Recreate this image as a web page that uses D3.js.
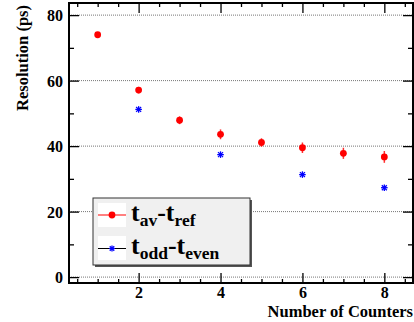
<!DOCTYPE html>
<html><head><meta charset="utf-8">
<script src="https://cdn.jsdelivr.net/npm/d3@7"></script>
<style>
html,body{margin:0;padding:0;background:#fff;}
svg{display:block;}
text{font-family:"Liberation Serif","Times New Roman",serif;font-weight:bold;fill:#000;}
</style></head>
<body>
<svg id="c" width="414" height="322"></svg>
<script>
// ---- data ----
const counters = [1, 2, 3, 4, 5, 6, 7, 8];
const tavRef = [74.0, 57.1, 47.9, 43.6, 41.1, 39.5, 37.8, 36.7];
const tavRefErr = [0.6, 1.0, 1.2, 1.5, 1.3, 1.6, 1.7, 1.8];
const oddEvenCounters = [2, 4, 6, 8];
const oddEven = [51.2, 37.4, 31.3, 27.3];
const xMajorTicks = [2, 4, 6, 8];
const yMajorTicks = [0, 20, 40, 60, 80];
const yMinorTicks = [10, 30, 50, 70];
const xMinorTicks = [0.5, 1, 1.5, 2.5, 3, 3.5, 4.5, 5, 5.5, 6.5, 7, 7.5, 8.5];

// ---- layout ----
const L = 69, R = 413, T = 3, B = 283;
const svg = d3.select("#c");
const x = d3.scaleLinear().domain([0.3, 8.7]).range([L, R]);
const y = d3.scaleLinear().domain([-1.8, 83.7]).range([B, T]);

// gridlines
svg.append("g").selectAll("line").data(yMajorTicks).join("line")
  .attr("x1", L).attr("x2", R)
  .attr("y1", d => y(d)).attr("y2", d => y(d))
  .attr("stroke", "#777").attr("stroke-width", 1).attr("stroke-dasharray", "1,1");

// axes (ticks inside)
function styleAxis(g){ g.select(".domain").remove(); g.selectAll("line").attr("stroke","#000").attr("stroke-width",1.3); }

svg.append("g").attr("transform", `translate(${L},0)`)
  .call(d3.axisLeft(y).tickValues(yMajorTicks).tickSize(-10).tickPadding(6).tickFormat(d3.format("d")))
  .call(styleAxis)
  .call(g => g.selectAll("text").attr("font-size", 16).attr("font-family", '"Liberation Serif",serif').attr("font-weight", "bold").attr("dy", "0.35em"));
svg.append("g").attr("transform", `translate(${L},0)`)
  .call(d3.axisLeft(y).tickValues(yMinorTicks).tickSize(-5).tickFormat(""))
  .call(styleAxis);
svg.append("g").attr("transform", `translate(${R},0)`)
  .call(d3.axisRight(y).tickValues(yMajorTicks).tickSize(-10).tickFormat(""))
  .call(styleAxis);
svg.append("g").attr("transform", `translate(${R},0)`)
  .call(d3.axisRight(y).tickValues(yMinorTicks).tickSize(-5).tickFormat(""))
  .call(styleAxis);

svg.append("g").attr("transform", `translate(0,${B})`)
  .call(d3.axisBottom(x).tickValues(xMajorTicks).tickSize(-10).tickPadding(3).tickFormat(d3.format("d")))
  .call(styleAxis)
  .call(g => g.selectAll("text").attr("font-size", 16).attr("font-family", '"Liberation Serif",serif').attr("font-weight", "bold").attr("dy", "0.75em"));
svg.append("g").attr("transform", `translate(0,${B})`)
  .call(d3.axisBottom(x).tickValues(xMinorTicks).tickSize(-4).tickFormat(""))
  .call(styleAxis);
svg.append("g").attr("transform", `translate(0,${T})`)
  .call(d3.axisTop(x).tickValues(xMajorTicks).tickSize(-10).tickFormat(""))
  .call(styleAxis);
svg.append("g").attr("transform", `translate(0,${T})`)
  .call(d3.axisTop(x).tickValues(xMinorTicks).tickSize(-4).tickFormat(""))
  .call(styleAxis);

// frame
svg.append("rect").attr("x", L).attr("y", T).attr("width", R - L).attr("height", B - T)
  .attr("fill", "none").attr("stroke", "#000").attr("stroke-width", 2);

// axis titles
svg.append("text").attr("transform", "translate(28,5) rotate(-90)")
  .attr("text-anchor", "end").attr("font-size", 16.5).text("Resolution (ps)");
svg.append("text").attr("x", 413).attr("y", 317)
  .attr("text-anchor", "end").attr("font-size", 16.5).text("Number of Counters");

// red series with error bars
const red = counters.map((c, i) => ({c, v: tavRef[i], e: tavRefErr[i]}));
svg.append("g").selectAll("line").data(red).join("line")
  .attr("x1", d => x(d.c)).attr("x2", d => x(d.c))
  .attr("y1", d => y(d.v - d.e)).attr("y2", d => y(d.v + d.e))
  .attr("stroke", "#ff3030").attr("stroke-width", 1.5);
svg.append("g").selectAll("circle").data(red).join("circle")
  .attr("cx", d => x(d.c)).attr("cy", d => y(d.v)).attr("r", 3.4).attr("fill", "#ff0000");

// blue stars
function drawStar(g, cx, cy, s){
  const pts = [[-s,0,s,0],[0,-s,0,s],[-s*0.75,-s*0.75,s*0.75,s*0.75],[-s*0.75,s*0.75,s*0.75,-s*0.75]];
  pts.forEach(p => g.append("line").attr("x1", cx+p[0]).attr("y1", cy+p[1]).attr("x2", cx+p[2]).attr("y2", cy+p[3])
    .attr("stroke", "#0000ff").attr("stroke-width", 1.3));
}
const blue = oddEvenCounters.map((c, i) => ({c, v: oddEven[i]}));
const bg = svg.append("g");
blue.forEach(d => drawStar(bg, x(d.c), y(d.v), 3.3));

// legend
const lg = svg.append("g");
lg.append("rect").attr("x", 95).attr("y", 200).attr("width", 157).attr("height", 67).attr("fill", "#555");
lg.append("rect").attr("x", 93).attr("y", 198).attr("width", 157).attr("height", 67)
  .attr("fill", "#f0f0f0").attr("stroke", "#333").attr("stroke-width", 1);
lg.append("rect").attr("x", 98).attr("y", 203).attr("width", 28).attr("height", 24).attr("fill", "#fff");
lg.append("rect").attr("x", 98).attr("y", 236).attr("width", 28).attr("height", 24).attr("fill", "#fff");
lg.append("line").attr("x1", 98).attr("x2", 126).attr("y1", 215).attr("y2", 215).attr("stroke", "#ff8080").attr("stroke-width", 2);
lg.append("circle").attr("cx", 112).attr("cy", 215).attr("r", 3.4).attr("fill", "#ff0000");
lg.append("line").attr("x1", 98).attr("x2", 126).attr("y1", 248.5).attr("y2", 248.5).attr("stroke", "#000").attr("stroke-width", 1);
drawStar(lg, 112, 248.5, 3);

function legendText(yb, main1, sub1, main2, sub2){
  const t = lg.append("text").attr("x", 131).attr("y", yb).attr("font-size", 26);
  t.append("tspan").text(main1);
  t.append("tspan").attr("font-size", 17.5).attr("dy", 5).text(sub1);
  t.append("tspan").attr("dy", -5).text("-" + main2);
  t.append("tspan").attr("font-size", 17.5).attr("dy", 5).text(sub2);
}
legendText(221, "t", "av", "t", "ref");
legendText(254, "t", "odd", "t", "even");
</script>
</body></html>
